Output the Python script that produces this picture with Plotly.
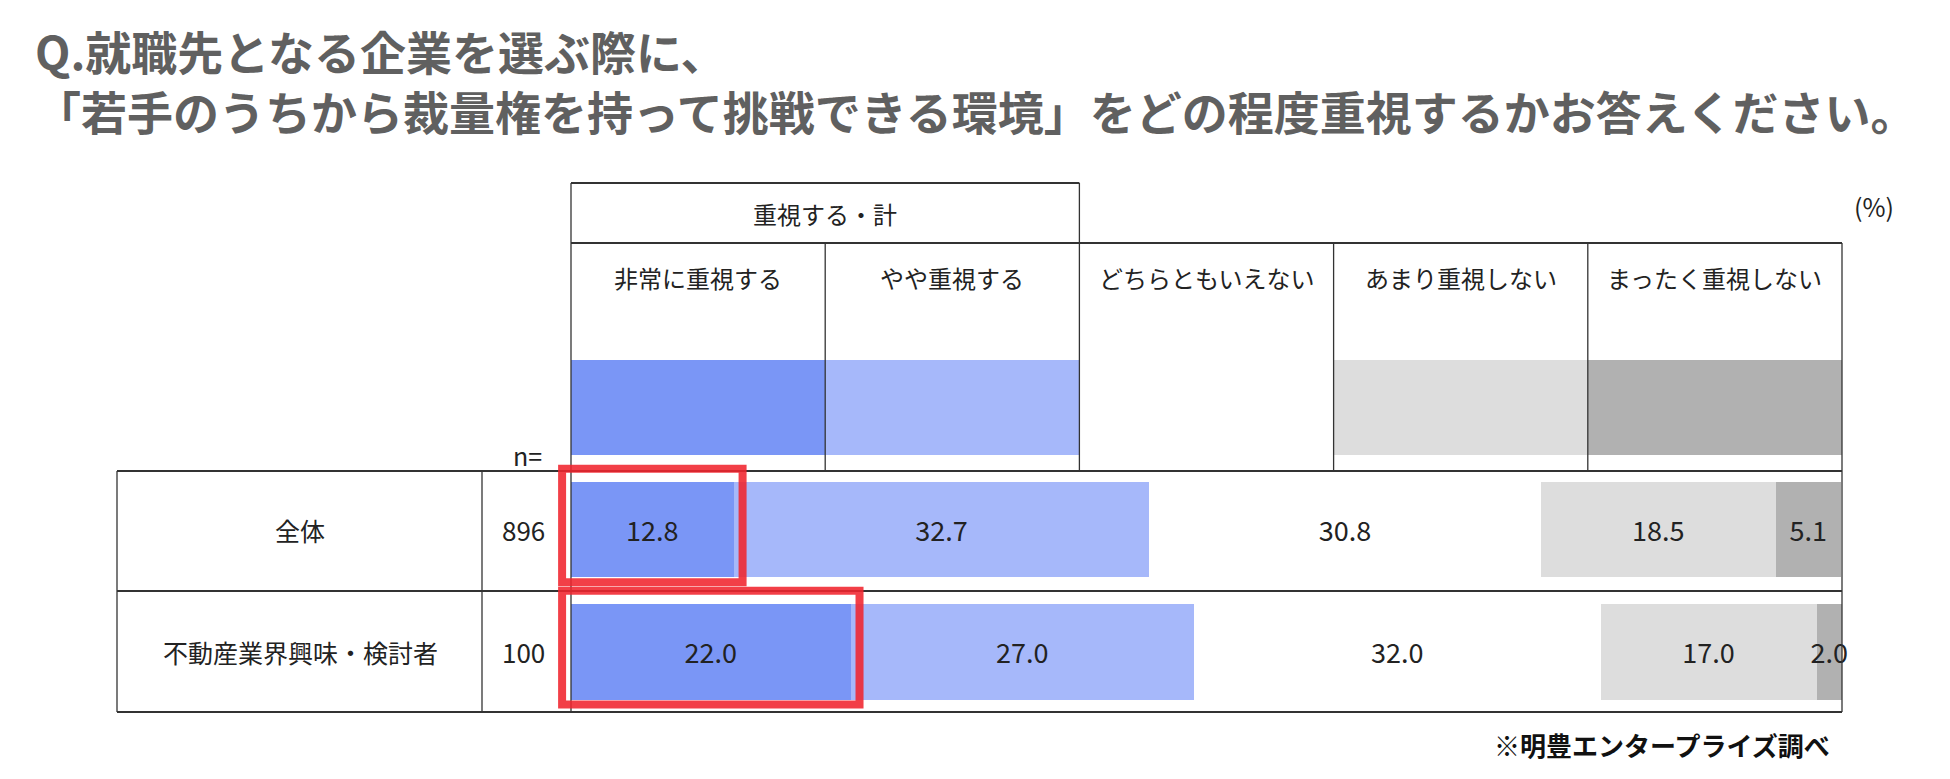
import plotly.graph_objects as go

W, H = 1950, 779
OFF = 8  # the page body keeps its default 8px margin round the figure

# --- data ---
question_line1 = "Q.就職先となる企業を選ぶ際に、"
question_line2 = "「若手のうちから裁量権を持って挑戦できる環境」をどの程度重視するかお答えください。"
group_label = "重視する・計"
answers = ["非常に重視する", "やや重視する", "どちらともいえない", "あまり重視しない", "まったく重視しない"]
segments = ["全体", "不動産業界興味・検討者"]
sample_sizes = [896, 100]
overall = [12.8, 32.7, 30.8, 18.5, 5.1]
realestate = [22.0, 27.0, 32.0, 17.0, 2.0]
highlight = [overall[0], realestate[0]]
unit_note = "(%)"
source_note = "※明豊エンタープライズ調べ"

colors = ["#7A96F6", "#A6B8FA", "#FFFFFF", "#DDDDDD", "#B1B1B1"]
FONT = "Noto Sans CJK JP"
LINE = "#333333"
FW, FH = W - 2 * OFF, H - 2 * OFF


def px(x):
    return (x - OFF) / FW


def py(y):
    return 1 - (y - OFF) / FH


legend_row = "凡例"
rows = [legend_row] + segments
swatch = 100 / len(answers)

# plot area runs 571..1842 px for 0..100 %, padded so the red boxes are not clipped
unit = (1842 - 571) / 100
pad = 2

fig = go.Figure()
for i, ans in enumerate(answers):
    vals = [swatch, overall[i], realestate[i]]
    labels = ["", f"{overall[i]:.1f}", f"{realestate[i]:.1f}"]
    fig.add_trace(go.Bar(
        orientation="h", y=rows, x=vals, name=ans,
        marker=dict(color=colors[i], line=dict(width=0)),
        text=labels, textposition="inside", insidetextanchor="middle",
        textangle=0, textfont=dict(size=27, color="#222222", family=FONT),
        width=0.78, hoverinfo="x+name", cliponaxis=False,
    ))

shapes = []


def seg(x0, y0, x1, y1, xref="paper", yref="paper", w=1.3):
    shapes.append(dict(type="line", xref=xref, yref=yref, x0=x0, y0=y0, x1=x1, y1=y1,
                       line=dict(color=LINE, width=w)))


# header frame
seg(0, py(183), 2 * swatch, py(183), xref="x", w=1.8)
seg(0, py(183), 0, py(712), xref="x")
seg(2 * swatch, py(183), 2 * swatch, py(243), xref="x")
seg(0, py(243), 100, py(243), xref="x", w=1.8)
for k in range(1, len(answers)):
    seg(k * swatch, py(243), k * swatch, py(471), xref="x")
seg(100, py(243), 100, py(712), xref="x")
# table frame
for yy in (471, 591, 712):
    seg(px(117), py(yy), px(1842), py(yy), w=2.2)
for xx in (117, 482):
    seg(px(xx), py(471), px(xx), py(712))

# red highlight boxes round the first answer of each row
for i, v in enumerate(highlight, start=1):
    shapes.append(dict(type="rect", xref="x", yref="y", x0=-0.7, x1=v + 0.7,
                       y0=i - 0.5, y1=i + 0.43,
                       line=dict(color="rgba(240,36,46,0.88)", width=8),
                       fillcolor="rgba(0,0,0,0)"))


def note(text, x, y, size, xref="paper", yref="paper", xanchor="center", **font):
    ann.append(dict(text=text, xref=xref, yref=yref, x=x, y=y, xanchor=xanchor,
                    yanchor="middle", showarrow=False,
                    font=dict(size=size, color=font.pop("color", "#222222"), **font)))


ann = []
note(question_line1 + "<br>" + question_line2, px(33), py(80), 46, xanchor="left",
     color="#606060", family=FONT, weight=700)
ann[-1]["align"] = "left"
note(group_label, swatch, py(213), 24, xref="x")
for i, ans in enumerate(answers):
    note(ans, swatch * (i + 0.5), py(277), 24, xref="x")
note(unit_note, px(1874), py(206), 25)
note("n=", px(527), py(455), 25)
for seg_name, n in zip(segments, sample_sizes):
    note(seg_name, px(300), seg_name, 25, yref="y")
    note(str(n), px(523), seg_name, 26, yref="y")
note(source_note, px(1832), py(744), 26, xanchor="right", color="#111111",
     family=FONT, weight=700)

fig.update_layout(
    width=FW, height=FH, barmode="stack", showlegend=False,
    margin=dict(l=0, r=0, t=0, b=0),
    paper_bgcolor="white", plot_bgcolor="white",
    font=dict(family=FONT, color="#222222"),
    uniformtext=dict(minsize=27, mode="show"),
    xaxis=dict(domain=[px(571 - pad * unit), px(1842 + pad * unit)], range=[-pad, 100 + pad],
               visible=False, fixedrange=True),
    yaxis=dict(domain=[py(713.1), py(346.4)], range=[2.5, -0.5], type="category",
               categoryorder="array", categoryarray=rows, visible=False, fixedrange=True),
    shapes=shapes, annotations=ann,
)

fig.write_html("out.html")
